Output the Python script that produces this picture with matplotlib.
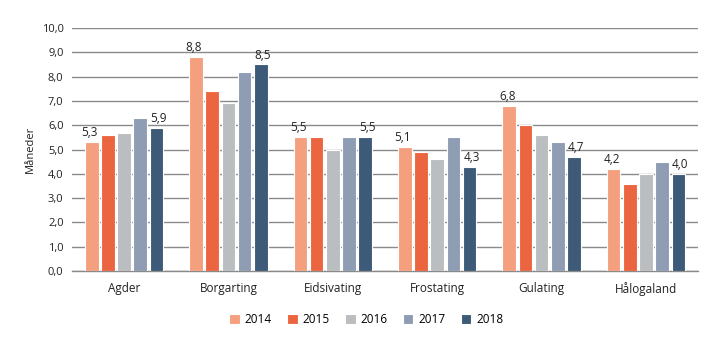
import numpy as np
import matplotlib
matplotlib.use("Agg")
import matplotlib.pyplot as plt

plt.rcParams['font.family'] = ['Open Sans', 'DejaVu Sans']

regions = ["Agder", "Borgarting", "Eidsivating", "Frostating", "Gulating", "Hålogaland"]
years = ["2014", "2015", "2016", "2017", "2018"]
v2014 = [5.3, 8.8, 5.5, 5.1, 6.8, 4.2]
v2015 = [5.6, 7.4, 5.5, 4.9, 6.0, 3.6]
v2016 = [5.7, 6.9, 5.0, 4.6, 5.6, 4.0]
v2017 = [6.3, 8.2, 5.5, 5.5, 5.3, 4.5]
v2018 = [5.9, 8.5, 5.5, 4.3, 4.7, 4.0]
series = [v2014, v2015, v2016, v2017, v2018]
colors = ["#F4A07E", "#EB6640", "#BABEC0", "#8E9DB4", "#3D5A78"]
labelled = [0, 4]  # only 2014 and 2018 carry value labels

fig = plt.figure(figsize=(7.19, 3.41), dpi=100)
ax = fig.add_axes([0.100, 0.205, 0.871, 0.713])

x = np.arange(len(regions))
slot = 0.155
w = 0.13
for i, (vals, c) in enumerate(zip(series, colors)):
    pos = x + (i - 2) * slot
    bars = ax.bar(pos, vals, w, color=c, edgecolor="white", linewidth=0.8,
                  label=years[i], zorder=3)
    if i in labelled:
        for b, v in zip(bars, vals):
            ax.text(b.get_x() + b.get_width() / 2 + (0.02 if i == 4 else -0.02),
                    v + 0.12, f"{v:.1f}".replace(".", ","),
                    ha="center", va="bottom", fontsize=8.5, color="#222222", zorder=4)

ax.set_xlim(-0.5, len(regions) - 0.5)
ax.set_ylim(0, 10)
ax.set_yticks(np.arange(0, 10.5, 1))
ax.set_yticklabels([f"{t:.1f}".replace(".", ",") for t in np.arange(0, 10.5, 1)])
ax.set_xticks(x)
ax.set_xticklabels(regions)
ax.tick_params(axis="both", length=0, labelsize=8, colors="#222222")
ax.tick_params(axis="x", pad=8, labelsize=8.5)
ax.tick_params(axis="y", pad=6)
ax.yaxis.grid(True, color="#8a8a8a", linewidth=1.0, zorder=0)
for s in ["top", "right", "left"]:
    ax.spines[s].set_visible(False)
ax.spines["bottom"].set_color("#8a8a8a")
ax.spines["bottom"].set_linewidth(1.0)
ax.set_ylabel("Måneder", fontsize=8, color="#222222", labelpad=4)

ax.legend(loc="upper center", bbox_to_anchor=(0.47, -0.13), ncol=5, frameon=False,
          fontsize=8.5, handlelength=0.9, handleheight=0.9, handletextpad=0.4,
          columnspacing=1.3)

fig.savefig("out.png", dpi=100)
